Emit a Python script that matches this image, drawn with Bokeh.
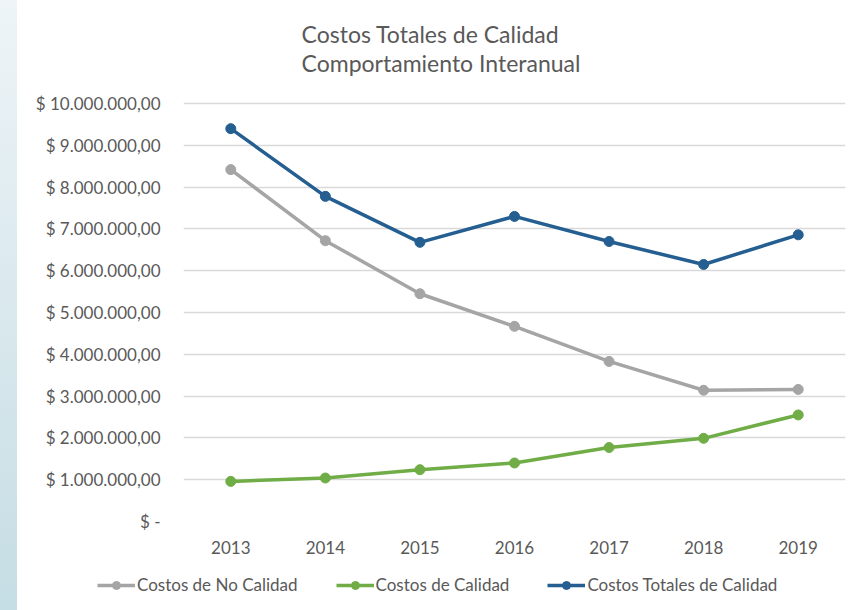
from bokeh.plotting import figure
from bokeh.models import Title, Legend, LegendItem, FixedTicker, Range1d
from bokeh.layouts import column
from bokeh.embed import file_html
from bokeh.resources import INLINE

years = ["2013", "2014", "2015", "2016", "2017", "2018", "2019"]
no_calidad = [8420000, 6720000, 5450000, 4670000, 3830000, 3140000, 3160000]
calidad = [960000, 1040000, 1240000, 1400000, 1770000, 1990000, 2550000]
totales = [9400000, 7780000, 6680000, 7300000, 6700000, 6150000, 6860000]
series_names = ["Costos de No Calidad", "Costos de Calidad", "Costos Totales de Calidad"]
y_ticks = [0, 1000000, 2000000, 3000000, 4000000, 5000000, 6000000, 7000000, 8000000, 9000000, 10000000]
y_labels = ["$ -", "$ 1.000.000,00", "$ 2.000.000,00", "$ 3.000.000,00", "$ 4.000.000,00",
            "$ 5.000.000,00", "$ 6.000.000,00", "$ 7.000.000,00", "$ 8.000.000,00",
            "$ 9.000.000,00", "$ 10.000.000,00"]
title_lines = ["Costos Totales de Calidad", "Comportamiento Interanual"]

FONT = "Lato"
TXT = "#595959"
W = 847


def blank(height, top):
    f = figure(x_range=years, y_range=Range1d(-2, -1), width=W, height=height,
               output_backend="svg", toolbar_location=None, title=None,
               min_border_left=0, min_border_right=0, min_border_top=top, min_border_bottom=0)
    f.axis.visible = False
    f.grid.visible = False
    f.outline_line_color = None
    f.border_fill_color = "white"
    f.background_fill_color = "white"
    f.frame_align = False
    return f


# title strip (centred on the whole chart box)
tf = blank(91, 85)
tf.add_layout(Title(text="\n".join(title_lines), align="center", text_font=FONT,
                    text_font_size="23px", text_font_style="normal", text_color=TXT,
                    text_line_height=1.05, standoff=17), "above")

p = figure(x_range=years, y_range=Range1d(0, 10050000), width=W, height=475,
           output_backend="svg", toolbar_location=None, title=None,
           min_border_left=166, min_border_right=19, min_border_top=10, min_border_bottom=45)
p.outline_line_color = None
p.background_fill_color = "white"
p.border_fill_color = "white"
p.frame_align = False

p.yaxis.ticker = FixedTicker(ticks=y_ticks)
p.yaxis.major_label_overrides = {t: l for t, l in zip(y_ticks, y_labels)}
p.yaxis.axis_line_color = None
p.yaxis.major_tick_line_color = None
p.yaxis.minor_tick_line_color = None
p.yaxis.major_label_text_font = FONT
p.yaxis.major_label_text_font_size = "17px"
p.yaxis.major_label_text_color = TXT
p.yaxis.major_label_standoff = 17

p.xaxis.axis_line_color = None
p.xaxis.major_tick_line_color = None
p.xaxis.major_label_text_font = FONT
p.xaxis.major_label_text_font_size = "17px"
p.xaxis.major_label_text_color = TXT
p.xaxis.major_label_standoff = 13

p.xgrid.grid_line_color = None
p.ygrid.grid_line_color = "#d9d9d9"
p.ygrid.grid_line_width = 1.3

colors = ["#a5a5a5", "#70ad47", "#255e91"]
data = [no_calidad, calidad, totales]

# legend strip: its own small figure, data kept out of view so only the legend shows
lf = blank(44, 0)

items = []
for name, vals, c in zip(series_names, data, colors):
    p.line(years, vals, line_color=c, line_width=3.5)
    p.scatter(years, vals, size=10, fill_color=c, line_color=c)
    l = lf.line(years, vals, line_color=c, line_width=3.5)
    s = lf.scatter(years, vals, size=10, fill_color=c, line_color=c)
    items.append(LegendItem(label=name, renderers=[l, s]))

legend = Legend(items=items, orientation="horizontal", location=(80, 15),
                label_text_font=FONT, label_text_font_size="17px", label_text_color=TXT,
                glyph_width=38, label_standoff=2, spacing=38, border_line_color=None,
                background_fill_alpha=0, padding=0, margin=0)
lf.add_layout(legend)

layout = column(tf, p, lf, spacing=0,
                styles={"background": "linear-gradient(180deg, #eef4f7 0%, #c5dde4 100%) 0 0 / 17px 100% no-repeat, #ffffff",
                        "padding-left": "17px"})

open("out.html", "w").write(file_html(layout, INLINE))
